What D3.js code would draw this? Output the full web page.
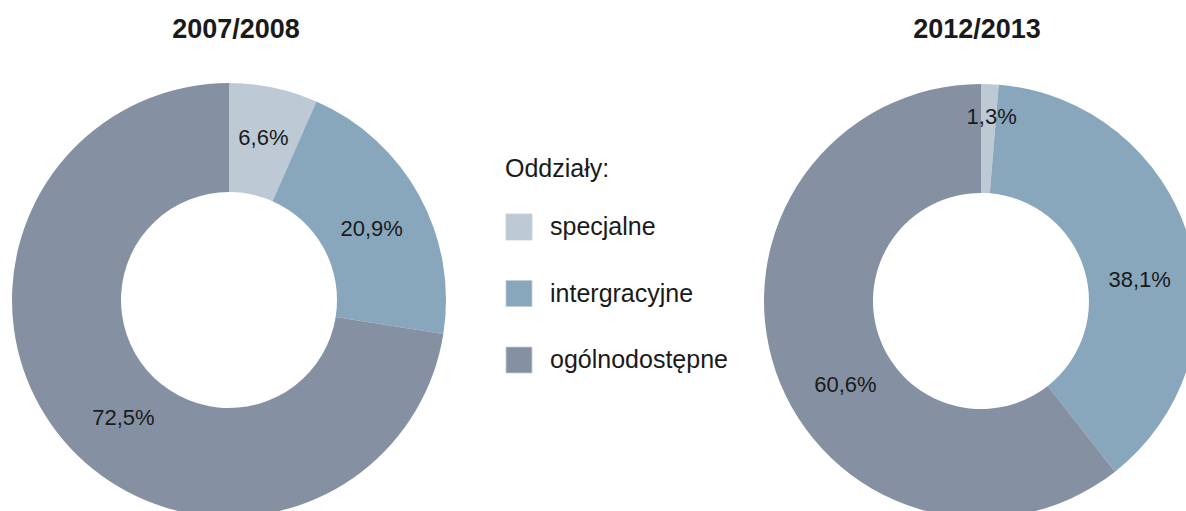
<!DOCTYPE html>
<html>
<head>
<meta charset="utf-8">
<script src="https://cdn.jsdelivr.net/npm/d3@7"></script>
<style>
	body { margin: 0; background: #fff; }
	text { font-family: "Liberation Sans", Arial, sans-serif; fill: #1a1a1a; }
</style>
</head>
<body>
<svg width="1186" height="511"></svg>
<script>
/* DATA */
var categories = ["specjalne", "intergracyjne", "ogólnodostępne"];
var years = ["2007/2008", "2012/2013"];
var values2007 = [6.6, 20.9, 72.5];
var values2012 = [1.3, 38.1, 60.6];
var legendTitle = "Oddziały:";

/* LAYOUT */
var colors = ["#bdcad5", "#88a7bc", "#8591a3"];
var outerR = 217, innerR = 108;
var charts = [
	{ title: years[0], values: values2007, cx: 229, cy: 300, titleX: 236 },
	{ title: years[1], values: values2012, cx: 981, cy: 301, titleX: 977 }
];
// small nudges so the labels sit where the original placed them
var labelNudge = [
	[[1, -4], [0, 6], [18, 12]],
	[[4, -23], [3, 25], [18, 30]]
];

var svg = d3.select("svg");
var color = d3.scaleOrdinal().domain(categories).range(colors);
var pie = d3.pie().sort(null).value(function (d) { return d.value; });
var arc = d3.arc().innerRadius(innerR).outerRadius(outerR);
var fmt = function (v) { return d3.format(".1f")(v).replace(".", ",") + "%"; };

charts.forEach(function (c, ci) {
	var rows = categories.map(function (k, i) { return { key: k, value: c.values[i] }; });

	svg.append("text")
		.attr("x", c.titleX)
		.attr("y", 38)
		.attr("text-anchor", "middle")
		.style("font-size", "27px")
		.style("font-weight", "bold")
		.text(c.title);

	var g = svg.append("g").attr("transform", "translate(" + c.cx + "," + c.cy + ")");

	g.selectAll("path")
		.data(pie(rows))
		.enter()
		.append("path")
		.attr("d", arc)
		.attr("fill", function (d) { return color(d.data.key); });

	g.selectAll("text.lbl")
		.data(pie(rows))
		.enter()
		.append("text")
		.attr("class", "lbl")
		.attr("transform", function (d, i) {
			var p = arc.centroid(d);
			var n = labelNudge[ci][i];
			return "translate(" + (p[0] + n[0]) + "," + (p[1] + n[1]) + ")";
		})
		.attr("text-anchor", "middle")
		.attr("dy", "0.36em")
		.style("font-size", "22px")
		.text(function (d) { return fmt(d.data.value); });
});

/* LEGEND */
var legend = svg.append("g").attr("transform", "translate(505,0)");

legend.append("text")
	.attr("x", 0)
	.attr("y", 177)
	.style("font-size", "25px")
	.text(legendTitle);

var item = legend.selectAll("g.item")
	.data(categories)
	.enter()
	.append("g")
	.attr("class", "item")
	.attr("transform", function (d, i) { return "translate(0," + (214 + i * 66.5) + ")"; });

item.append("rect")
	.attr("x", 1)
	.attr("width", 26)
	.attr("height", 26)
	.attr("fill", function (d) { return color(d); })
	.attr("stroke", "#c8cdd3")
	.attr("stroke-width", 0.8);

item.append("text")
	.attr("x", 45)
	.attr("y", 21)
	.style("font-size", "25px")
	.text(function (d) { return d; });
</script>
</body>
</html>
